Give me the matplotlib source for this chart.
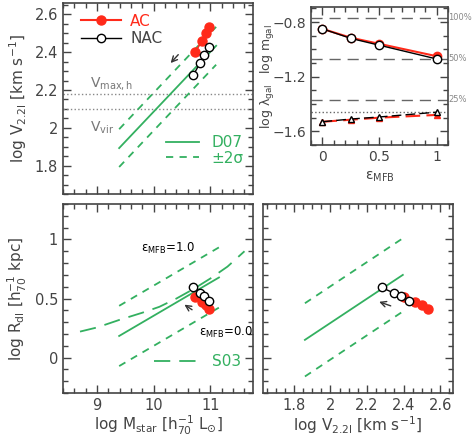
import matplotlib
matplotlib.use("Agg")
import matplotlib.pyplot as plt
from matplotlib.lines import Line2D
from matplotlib.ticker import MultipleLocator

# data
mstar_ac = [10.73, 10.85, 10.92, 10.98]
v22_ac = [2.40, 2.46, 2.50, 2.535]
rd_ac = [0.517, 0.469, 0.447, 0.408]

mstar_nac = [10.70, 10.82, 10.89, 10.97]
v22_nac = [2.28, 2.345, 2.385, 2.43]
rd_nac = [0.594, 0.547, 0.52, 0.483]

# D07 / S03 relations (end points) and scatter
d07_m = [9.39, 11.1]
d07_v = [1.893, 2.434]
d07_sig = 0.1
s03_m = [9.39, 11.15]
s03_r = [0.183, 0.678]
s03_sig = 0.255
s03_curve_m = [8.7, 9.0, 9.4, 9.8, 10.1, 10.4, 10.7, 11.0, 11.3, 11.6]
s03_curve_r = [0.22, 0.255, 0.32, 0.38, 0.43, 0.5, 0.58, 0.67, 0.77, 0.9]
tf_v = [1.86, 2.396]
tf_r = [0.15, 0.70]
tf_sig = 0.31

v_maxh = 2.177
v_vir = 2.098

# inset
eps = [0, 0.25, 0.5, 1.0]
mgal_nac = [-0.85, -0.92, -0.97, -1.07]
mgal_ac = [-0.85, -0.915, -0.96, -1.05]
lam_nac = [-1.53, -1.51, -1.495, -1.46]
lam_ac = [-1.53, -1.515, -1.50, -1.48]
frac_levels = [-0.77, -1.07, -1.37]
frac_labels = ["100%", "50%", "25%"]
lam_ref = -1.46

red = "#ff2a1a"
green = "#33b060"
grey = "#444444"

plt.rcParams["font.family"] = "DejaVu Sans"
plt.rcParams["text.color"] = grey
plt.rcParams["axes.edgecolor"] = grey
plt.rcParams["xtick.color"] = grey
plt.rcParams["ytick.color"] = grey
plt.rcParams["axes.labelcolor"] = grey
plt.rcParams["mathtext.default"] = "regular"

fig = plt.figure(figsize=(4.72, 4.38), dpi=100)
ax1 = fig.add_axes([0.1335, 0.557, 0.4025, 0.436])
ax2 = fig.add_axes([0.1335, 0.1027, 0.4025, 0.4315])
ax3 = fig.add_axes([0.557, 0.1027, 0.4025, 0.4315])
ax4 = fig.add_axes([0.659, 0.669, 0.290, 0.315])


def style(ax, xmaj, xmin, ymaj, ymin):
    ax.xaxis.set_major_locator(MultipleLocator(xmaj))
    ax.xaxis.set_minor_locator(MultipleLocator(xmin))
    ax.yaxis.set_major_locator(MultipleLocator(ymaj))
    ax.yaxis.set_minor_locator(MultipleLocator(ymin))
    ax.tick_params(which="both", direction="in", top=True, right=True, labelsize=10.5)
    ax.tick_params(which="major", length=6, width=1)
    ax.tick_params(which="minor", length=3.5, width=1)
    for s in ax.spines.values():
        s.set_linewidth(1.2)


def fmt(v, pos):
    return ("%g" % round(v, 6)).replace("-", "\u2212")


sd = (0, (4, 3.5))
ld = (0, (9, 5))

# top-left: V22 vs Mstar
ax1.axhline(v_maxh, color="#888888", ls=":", lw=1)
ax1.axhline(v_vir, color="#888888", ls=":", lw=1)
ax1.text(8.87, 2.235, "V$_{max,h}$", color="#777777", fontsize=10, va="center")
ax1.text(8.87, 2.0, "V$_{vir}$", color="#777777", fontsize=10, va="center")
ax1.plot(d07_m, d07_v, color=green, lw=1.3)
ax1.plot(d07_m, [v + d07_sig for v in d07_v], color=green, lw=1.3, ls=sd)
ax1.plot(d07_m, [v - d07_sig for v in d07_v], color=green, lw=1.3, ls=sd)
ax1.plot(mstar_ac, v22_ac, color=red, marker="o", ms=6.5, lw=1.2)
ax1.plot(mstar_nac, v22_nac, color="black", marker="o", mfc="white", ms=6, lw=1)
ax1.annotate("", xy=(10.265, 2.332), xytext=(10.465, 2.398),
             arrowprops=dict(arrowstyle="->", color="#333333", lw=1))
ax1.set_xlim(8.4, 11.75)
ax1.set_ylim(1.65, 2.66)
style(ax1, 1, 0.2, 0.2, 0.05)
ax1.tick_params(labelbottom=False)
ax1.yaxis.set_major_formatter(fmt)
ax1.set_ylabel("log V$_{2.2I}$ [km s$^{-1}$]", fontsize=11)
h1 = [Line2D([], [], color=red, marker="o", ms=6.5),
      Line2D([], [], color="black", marker="o", mfc="white", ms=6, lw=1)]
leg1 = ax1.legend(h1, ["AC", "NAC"], loc="upper left", frameon=False, fontsize=11,
                  handlelength=2.6, borderaxespad=0.3, labelspacing=0.15,
                  handletextpad=0.6, bbox_to_anchor=(0.04, 1.0))
leg1.get_texts()[0].set_color(red)
ax1.add_artist(leg1)
h2 = [Line2D([], [], color=green, lw=1.3), Line2D([], [], color=green, lw=1.3, ls=sd)]
leg2 = ax1.legend(h2, ["D07", "\u00b12\u03c3"], loc="lower right", frameon=False,
                  fontsize=11, handlelength=2.2, labelspacing=0.05, borderaxespad=0.2,
                  bbox_to_anchor=(1.0, 0.1))
for t in leg2.get_texts():
    t.set_color(green)

# bottom-left: Rd vs Mstar
ax2.plot(s03_curve_m, s03_curve_r, color=green, lw=1.3, ls=ld)
ax2.plot(s03_m, s03_r, color=green, lw=1.3)
ax2.plot(s03_m, [r + s03_sig for r in s03_r], color=green, lw=1.3, ls=sd)
ax2.plot(s03_m, [r - s03_sig for r in s03_r], color=green, lw=1.3, ls=sd)
ax2.plot(mstar_ac, rd_ac, color=red, marker="o", ms=6.5, lw=1.2)
ax2.plot(mstar_nac, rd_nac, color="black", marker="o", mfc="white", ms=6, lw=1)
ax2.annotate("", xy=(10.50, 0.461), xytext=(10.716, 0.392),
             arrowprops=dict(arrowstyle="->", color="#333333", lw=1))
ax2.text(9.77, 0.92, "\u03b5$_{MFB}$=1.0", color="black", fontsize=8.5, va="center")
ax2.text(10.80, 0.21, "\u03b5$_{MFB}$=0.0", color="black", fontsize=8.5, va="center",
         clip_on=False)
ax2.set_xlim(8.4, 11.75)
ax2.set_ylim(-0.3, 1.3)
style(ax2, 1, 0.2, 0.5, 0.1)
ax2.yaxis.set_major_formatter(fmt)
ax2.set_xlabel("log M$_{star}$ [h$_{70}^{-1}$ L$_{\\odot}$]", fontsize=11, labelpad=1)
ax2.set_ylabel("log R$_{dI}$ [h$_{70}^{-1}$ kpc]", fontsize=11)
h3 = [Line2D([], [], color=green, lw=1.3, ls=ld)]
leg3 = ax2.legend(h3, ["S03"], loc="lower right", frameon=False, fontsize=11,
                  handlelength=3.0, borderaxespad=0.4, bbox_to_anchor=(1.0, 0.06))
leg3.get_texts()[0].set_color(green)

# bottom-right: Rd vs V22
ax3.plot(tf_v, tf_r, color=green, lw=1.3)
ax3.plot(tf_v, [r + tf_sig for r in tf_r], color=green, lw=1.3, ls=sd)
ax3.plot(tf_v, [r - tf_sig for r in tf_r], color=green, lw=1.3, ls=sd)
ax3.plot(v22_ac, rd_ac, color=red, marker="o", ms=6.5, lw=1.2)
ax3.plot(v22_nac, rd_nac, color="black", marker="o", mfc="white", ms=6, lw=1)
ax3.annotate("", xy=(2.252, 0.48), xytext=(2.344, 0.43),
             arrowprops=dict(arrowstyle="->", color="#333333", lw=1))
ax3.set_xlim(1.63, 2.67)
ax3.set_ylim(-0.3, 1.3)
style(ax3, 0.2, 0.05, 0.5, 0.1)
ax3.tick_params(labelleft=False)
ax3.xaxis.set_major_formatter(fmt)
ax3.set_xlabel("log V$_{2.2I}$ [km s$^{-1}$]", fontsize=11, labelpad=1)

# inset: m_gal and lambda_gal vs eps
for lev, lab in zip(frac_levels, frac_labels):
    ax4.axhline(lev, color="#666666", ls=(0, (8, 5)), lw=1)
    ax4.text(1.105, lev, lab, color="#888888", fontsize=6, va="center", ha="left")
ax4.axhline(lam_ref, color="#666666", ls=":", lw=1)
ax4.plot(eps, mgal_ac, color=red, marker="o", ms=6, lw=1.5)
ax4.plot(eps, mgal_nac, color="black", marker="o", mfc="white", ms=6, lw=1)
ax4.plot(eps, lam_ac, color=red, marker="^", ms=4, lw=1.5, ls=(0, (7, 3)))
ax4.plot(eps, lam_nac, color="black", marker="^", mfc="white", ms=4, lw=1, ls=(0, (7, 3)))
ax4.set_xlim(-0.1, 1.1)
ax4.set_ylim(-1.7, -0.69)
style(ax4, 0.5, 0.1, 0.4, 0.1)
ax4.tick_params(labelsize=10)
ax4.xaxis.set_major_formatter(fmt)
ax4.yaxis.set_major_formatter(fmt)
ax4.set_xlabel("\u03b5$_{MFB}$", fontsize=10)
ax4.text(-0.48, -1.0, "log m$_{gal}$", rotation=90, fontsize=9, ha="center", va="center")
ax4.text(-0.48, -1.42, "log \u03bb$_{gal}$", rotation=90, fontsize=9, ha="center", va="center")

fig.savefig("out.png", dpi=100)
